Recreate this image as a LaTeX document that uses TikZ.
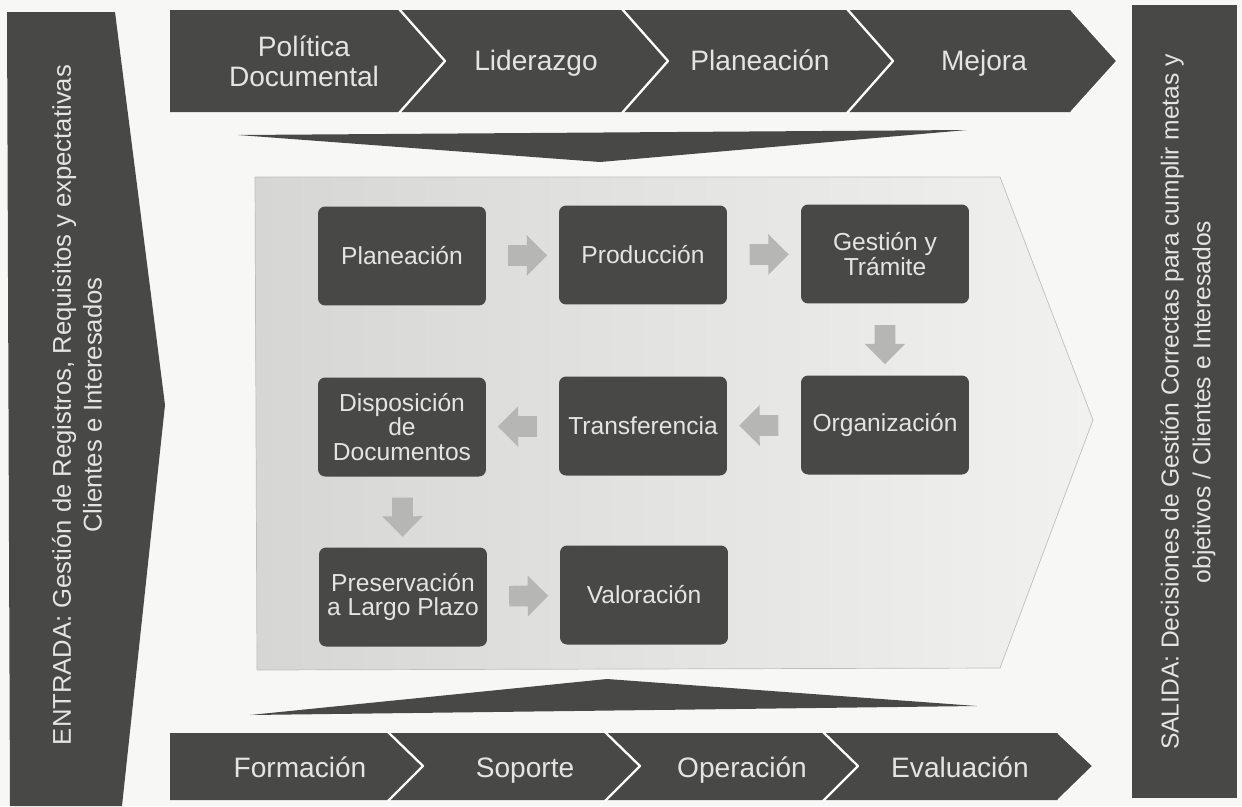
\documentclass[tikz,border=0pt]{standalone}
\usepackage{fontspec}
\setmainfont{Liberation Sans}
\usetikzlibrary{shapes.arrows}
\definecolor{banda}{RGB}{72,73,70}
\definecolor{letra}{RGB}{228,228,224}
\definecolor{flecha}{RGB}{182,182,180}
\definecolor{fondo}{RGB}{247,247,245}
\definecolor{panelA}{RGB}{214,214,212}
\definecolor{panelB}{RGB}{241,241,239}
\tikzset{
  etapa/.style={fill=banda,rounded corners=4pt,minimum width=3.36cm,minimum height=1.98cm,text=letra,align=center,font=\fontsize{14}{14}\selectfont,inner sep=1pt},
  fase/.style={text=letra,align=center,font=\fontsize{16}{17}\selectfont},
  lado/.style={text=letra,align=center,rotate=90,font=\fontsize{14.6}{17.5}\selectfont},
  paso/.style={midway,sloped,allow upside down,single arrow,fill=flecha,inner xsep=0pt,inner ysep=0.2cm,minimum height=0.78cm,single arrow head extend=0.2cm}
}
\begin{document}
\begin{tikzpicture}[x=0.02cm,y=-0.02cm,line join=round]
\fill[fondo] (0,0) rectangle (1242,806);
\fill[banda] (7,12) -- (115,12) -- (165,405) -- (122,806) -- (10,806) -- cycle;
\node[lado] (entrada) at (77,405) {ENTRADA: Gestión de Registros, Requisitos y expectativas\\Clientes e Interesados};
\fill[banda] (1132,5) rectangle (1237,798);
\node[lado,font=\fontsize{14}{18}\selectfont] (salida) at (1188,402) {SALIDA: Decisiones de Gestión Correctas para cumplir metas y\\objetivos / Clientes e Interesados};

\fill[banda] (170,10) -- (1071,10) -- (1117,61) -- (1071,112) -- (170,112) -- cycle;
\foreach \t in {445,668,893}
  \draw[white,line width=1.3pt] (\t-46,9) -- (\t,61) -- (\t-46,113);
\draw[white,line width=0.8pt] (1071,10) -- (1117,61) -- (1071,112);
\node[fase] (politica) at (304,61) {Política\\Documental};
\node[fase,anchor=base] (liderazgo) at (536,70) {Liderazgo};
\node[fase,anchor=base] (planeaciontop) at (760,70) {Planeación};
\node[fase,anchor=base] (mejora) at (984,70) {Mejora};
\fill[banda] (238,135) -- (967,130) -- (600,162) -- cycle;

\shadedraw[left color=panelA,right color=panelB,draw=gray!50,line width=0.4pt] (255,177) -- (1000,177) -- (1093,420) -- (1000,668) -- (257,670) -- cycle;
\node[etapa] (planeacion) at (402,256) {Planeación};
\node[etapa] (produccion) at (643,255) {Producción};
\node[etapa] (gestion) at (885,254) {Gestión y\\Trámite};
\node[etapa] (disposicion) at (402,427) {Disposición\\de\\Documentos};
\node[etapa] (transferencia) at (643,426) {Transferencia};
\node[etapa] (organizacion) at (885,425) {Organización};
\node[etapa] (preservacion) at (403,597) {Preservación\\a Largo Plazo};
\node[etapa] (valoracion) at (644,595) {Valoración};
\path (planeacion) -- (produccion) node[paso] {};
\path (produccion) -- (gestion) node[paso] {};
\path (gestion) -- (organizacion) node[paso] {};
\path (organizacion) -- (transferencia) node[paso] {};
\path (transferencia) -- (disposicion) node[paso] {};
\path (disposicion) -- (preservacion) node[paso] {};
\path (preservacion) -- (valoracion) node[paso] {};

\fill[banda] (250,715) -- (607,679) -- (977,706) -- cycle;
\fill[banda] (170,733) -- (1058,733) -- (1093,766) -- (1058,800) -- (170,800) -- cycle;
\foreach \t in {423,640,858}
  \draw[white,line width=1.3pt] (\t-35,732) -- (\t,766) -- (\t-35,801);
\draw[white,line width=0.8pt] (1058,733) -- (1093,766) -- (1058,800);
\node[fase,anchor=base] (formacion) at (300,777) {Formación};
\node[fase,anchor=base] (soporte) at (525,777) {Soporte};
\node[fase,anchor=base] (operacion) at (742,777) {Operación};
\node[fase,anchor=base] (evaluacion) at (960,777) {Evaluación};
\end{tikzpicture}
\end{document}
